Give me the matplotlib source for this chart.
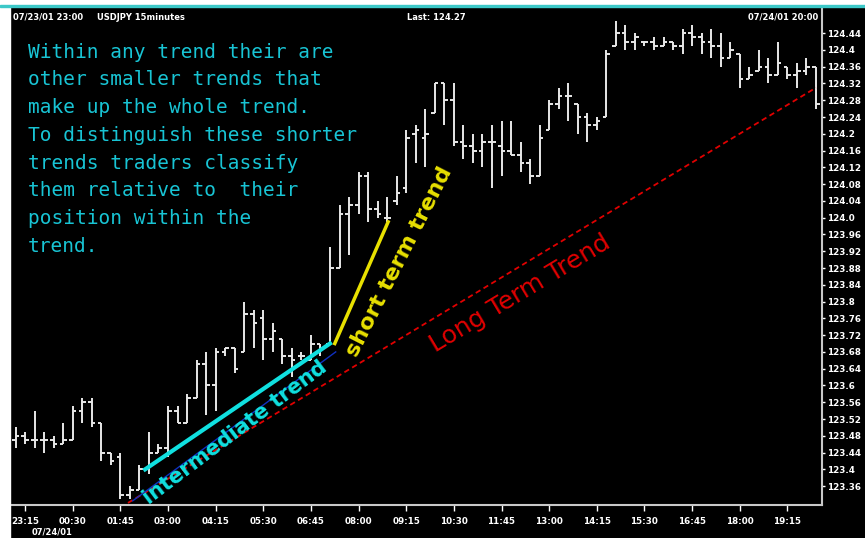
"""USD/JPY 15-minute bar chart with hand-drawn trend annotations."""

import matplotlib
matplotlib.use("Agg")
import matplotlib.pyplot as plt
from matplotlib.patches import Rectangle
import numpy as np

W, H = 865, 538

# OHLC per 15-minute bar, 07/23/01 23:00 -> 07/24/01 20:00
opens = [123.47, 123.48, 123.47, 123.47, 123.47, 123.46, 123.47, 123.54, 123.56, 123.51,
         123.44, 123.43, 123.34, 123.35, 123.40, 123.44, 123.45, 123.54, 123.51, 123.57,
         123.65, 123.60, 123.68, 123.69, 123.68, 123.77, 123.76, 123.71, 123.71, 123.67,
         123.67, 123.66, 123.70, 123.70, 123.88, 124.01, 124.03, 124.10, 124.02, 124.00,
         124.04, 124.07, 124.20, 124.19, 124.25, 124.32, 124.28, 124.18, 124.17, 124.16,
         124.18, 124.17, 124.16, 124.15, 124.13, 124.10, 124.21, 124.27, 124.29, 124.27,
         124.24, 124.22, 124.24, 124.41, 124.44, 124.42, 124.42, 124.42, 124.41, 124.42,
         124.41, 124.44, 124.43, 124.42, 124.41, 124.38, 124.39, 124.33, 124.35, 124.36,
         124.34, 124.36, 124.34, 124.35, 124.36]
highs = [123.50, 123.49, 123.54, 123.49, 123.48, 123.51, 123.55, 123.57, 123.57, 123.51,
         123.44, 123.44, 123.36, 123.41, 123.49, 123.46, 123.55, 123.55, 123.58, 123.66,
         123.68, 123.69, 123.69, 123.69, 123.80, 123.78, 123.78, 123.75, 123.71, 123.69,
         123.68, 123.72, 123.70, 123.93, 124.03, 124.05, 124.11, 124.11, 124.04, 124.05,
         124.10, 124.21, 124.22, 124.26, 124.32, 124.32, 124.32, 124.22, 124.20, 124.20,
         124.22, 124.23, 124.23, 124.18, 124.14, 124.22, 124.28, 124.31, 124.32, 124.27,
         124.25, 124.24, 124.40, 124.47, 124.46, 124.44, 124.42, 124.43, 124.43, 124.42,
         124.45, 124.46, 124.44, 124.45, 124.44, 124.42, 124.39, 124.36, 124.40, 124.38,
         124.42, 124.36, 124.37, 124.38, 124.36]
lows = [123.45, 123.46, 123.45, 123.44, 123.45, 123.46, 123.47, 123.51, 123.50, 123.42,
        123.41, 123.33, 123.33, 123.35, 123.39, 123.44, 123.43, 123.51, 123.51, 123.57,
        123.53, 123.54, 123.67, 123.63, 123.68, 123.69, 123.66, 123.68, 123.65, 123.62,
        123.66, 123.66, 123.67, 123.70, 123.88, 123.91, 124.01, 123.99, 124.00, 123.99,
        124.03, 124.06, 124.13, 124.12, 124.25, 124.22, 124.17, 124.14, 124.13, 124.12,
        124.07, 124.10, 124.15, 124.11, 124.08, 124.10, 124.21, 124.26, 124.23, 124.20,
        124.18, 124.21, 124.24, 124.41, 124.40, 124.40, 124.41, 124.40, 124.41, 124.40,
        124.39, 124.41, 124.39, 124.38, 124.36, 124.38, 124.31, 124.33, 124.35, 124.32,
        124.34, 124.33, 124.31, 124.34, 124.26]
closes = [123.48, 123.47, 123.47, 123.47, 123.46, 123.47, 123.54, 123.56, 123.51, 123.44,
          123.42, 123.34, 123.35, 123.40, 123.44, 123.45, 123.54, 123.51, 123.57, 123.65,
          123.60, 123.68, 123.69, 123.64, 123.77, 123.75, 123.71, 123.73, 123.67, 123.66,
          123.67, 123.70, 123.69, 123.88, 124.01, 124.03, 124.10, 124.02, 124.01, 124.00,
          124.06, 124.19, 124.21, 124.20, 124.32, 124.28, 124.18, 124.17, 124.16, 124.18,
          124.18, 124.16, 124.15, 124.13, 124.10, 124.19, 124.27, 124.29, 124.29, 124.24,
          124.22, 124.23, 124.39, 124.44, 124.42, 124.43, 124.42, 124.41, 124.42, 124.41,
          124.44, 124.43, 124.42, 124.41, 124.38, 124.40, 124.33, 124.34, 124.36, 124.34,
          124.37, 124.34, 124.35, 124.36, 124.27]

time_labels = ["23:15", "00:30", "01:45", "03:00", "04:15", "05:30", "06:45", "08:00", "09:15",
               "10:30", "11:45", "13:00", "14:15", "15:30", "16:45", "18:00", "19:15"]
time_ticks = [1 + 5 * k for k in range(len(time_labels))]
price_ticks = [round(123.36 + 0.04 * k, 2) for k in range(28)]

# trend annotations as (bar index, price) endpoints
long_x, long_y = [11.8, 84.0], [123.32, 124.31]
inter_x, inter_y = [13.6, 33.0], [123.40, 123.70]
inter_under_x, inter_under_y = [12.3, 33.6], [123.325, 123.68]
short_x, short_y = [33.5, 39.1], [123.70, 123.99]

note_lines = ["Within any trend their are",
              "other smaller trends that",
              "make up the whole trend.",
              "To distinguish these shorter",
              "trends traders classify",
              "them relative to  their",
              "position within the",
              "trend."]


def px(x, y):
    """pixel (from top-left) -> figure fraction"""
    return x / W, 1 - y / H


fig = plt.figure(figsize=(W / 100, H / 100), dpi=100, facecolor="black")
# window frame: white strip left/top and a teal title edge
fig.patches.append(Rectangle((0, 0), 10 / W, 1, transform=fig.transFigure,
                             color="white", zorder=0))
fig.patches.append(Rectangle((0, 1 - 5 / H), 1, 5 / H, transform=fig.transFigure,
                             color="white", zorder=0))
fig.patches.append(Rectangle((0, 1 - 7 / H), 1, 2 / H, transform=fig.transFigure,
                             color="#3cc8c8", zorder=0))

ax = fig.add_axes([12 / W, 1 - 505 / H, 810 / W, 497 / H])
ax.set_facecolor("black")

idx = np.arange(len(opens))
bar_col = "#e8e8e8"
ax.vlines(idx, lows, highs, color=bar_col, lw=1.4)
ax.hlines(opens, idx - 0.38, idx, color=bar_col, lw=1.4)
ax.hlines(closes, idx, idx + 0.38, color=bar_col, lw=1.4)

ax.plot(long_x, long_y, color="#e00000", lw=1.3, ls=(0, (3, 2)))
ax.plot(inter_under_x, inter_under_y, color="#1030c0", lw=1.0)
ax.plot(inter_x, inter_y, color="#10e0e0", lw=3)
ax.plot(short_x, short_y, color="#e8e000", lw=2.5)

ax.text(23.0, 123.488, "intermediate trend", color="#10e0e0", fontsize=15,
        fontweight="bold", rotation=37, ha="center", va="center",
        rotation_mode="anchor")
ax.text(40.3, 123.895, "short term trend", color="#e8e000", fontsize=16,
        fontweight="bold", rotation=63, ha="center", va="center",
        rotation_mode="anchor")
ax.text(52.9, 123.82, "Long Term Trend", color="#e00000", fontsize=18,
        rotation=31, ha="center", va="center", rotation_mode="anchor")

ax.set_xlim(-0.37, 84.63)
ax.set_ylim(123.315, 124.50)

for s in ("left", "top"):
    ax.spines[s].set_visible(False)
for s in ("right", "bottom"):
    ax.spines[s].set_color("#c8c8c8")
    ax.spines[s].set_linewidth(1.5)

ax.yaxis.tick_right()
ax.set_yticks(price_ticks)
ax.set_yticklabels([f"{v:.2f}"[:-1] if f"{v:.2f}".endswith("0") else f"{v:.2f}"
                    for v in price_ticks])
ax.set_xticks(time_ticks)
ax.set_xticklabels(time_labels)
ax.tick_params(axis="y", colors="white", labelsize=6.3, length=2, width=1, pad=1.5)
ax.tick_params(axis="x", colors="white", labelsize=6.3, length=4, width=1, pad=5)
for lab in ax.get_xticklabels() + ax.get_yticklabels():
    lab.set_fontweight("bold")

# header and footer
hdr = dict(color="white", fontsize=6, fontweight="bold", va="center")
fig.text(*px(13, 17), "07/23/01 23:00", ha="left", **hdr)
fig.text(*px(97, 17), "USDJPY 15minutes", ha="left", **hdr)
fig.text(*px(436, 17), "Last: 124.27", ha="center", **hdr)
fig.text(*px(818, 17), "07/24/01 20:00", ha="right", **hdr)
fig.text(*px(32, 532), "07/24/01", ha="left", **hdr)

for k, line in enumerate(note_lines):
    fig.text(*px(28, 52 + 27.8 * k), line, color="#18c4d4", fontsize=14,
             family="DejaVu Sans Mono", ha="left", va="center")

fig.savefig("out.png", dpi=100, facecolor=fig.get_facecolor())
